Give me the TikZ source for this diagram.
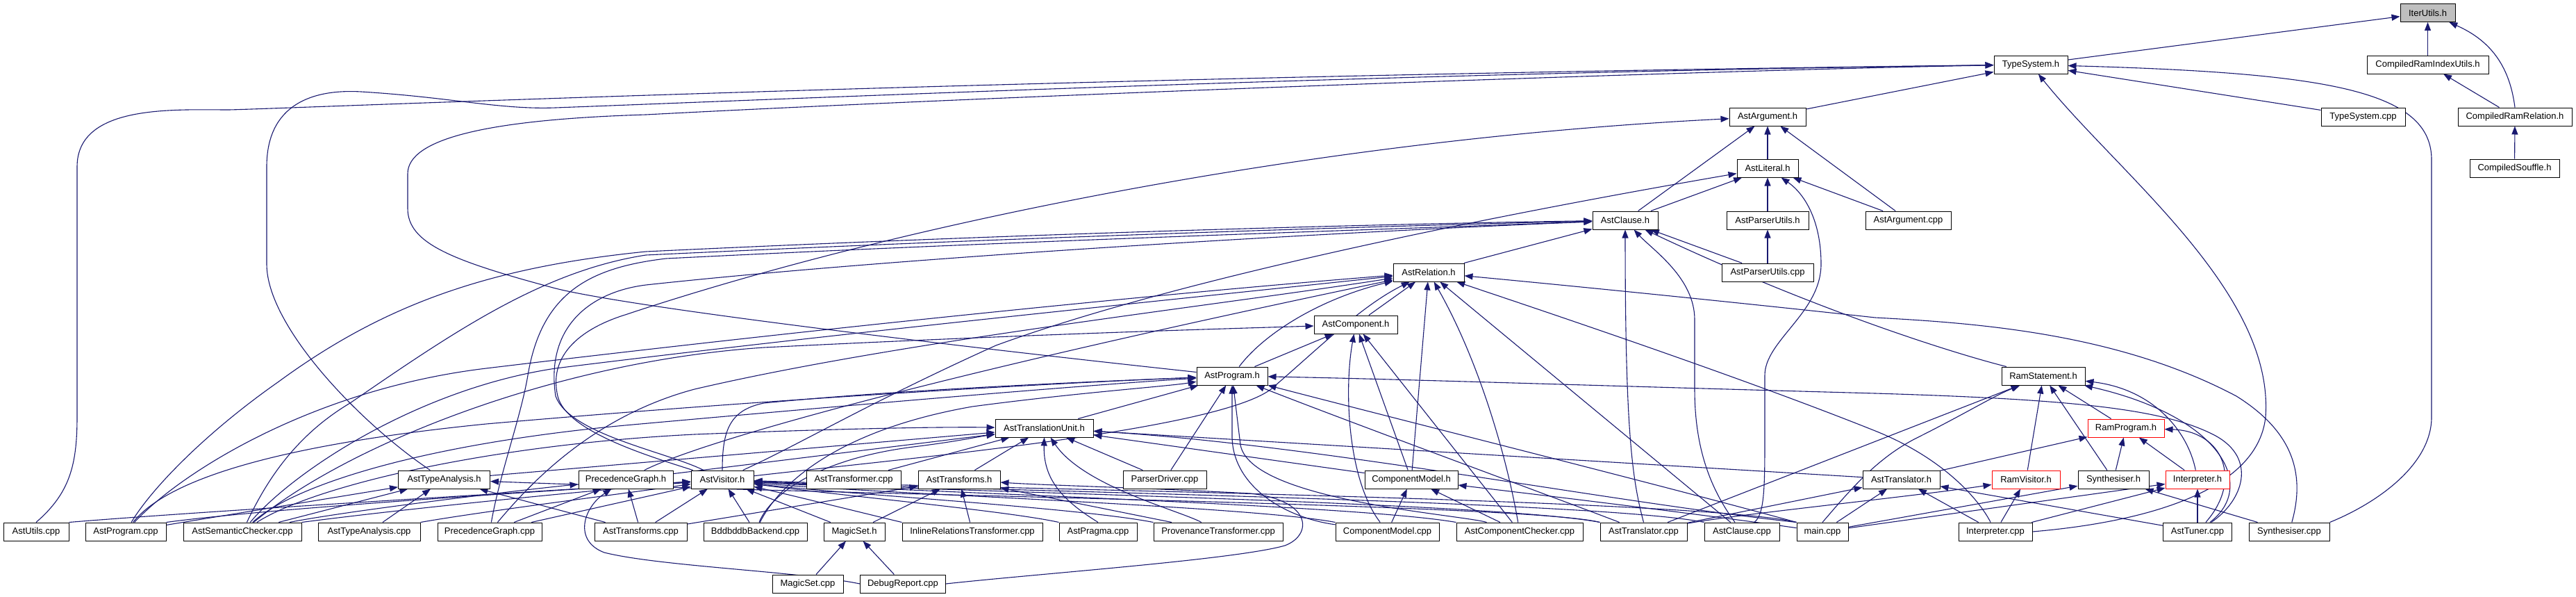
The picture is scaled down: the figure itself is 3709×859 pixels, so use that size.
\documentclass[tikz,border=0pt]{standalone}
\usepackage{fontspec}
\setmainfont{Liberation Sans}
\usetikzlibrary{arrows.meta}
\pgfdeclarelayer{bg}
\pgfsetlayers{bg,main}
\definecolor{edgeblue}{HTML}{191970}
\definecolor{hlgray}{HTML}{BFBFBF}
\tikzset{
 box/.style={draw=black, line width=1pt, fill=white, minimum height=26pt, inner sep=0pt, font=\fontsize{13}{15}\selectfont},
 redbox/.style={box, draw=red},
 e/.style={draw=edgeblue, line width=1.1pt, -{Triangle[length=12pt,width=9pt]}},
}
\begin{document}
\begin{tikzpicture}[x=1pt,y=-1pt]
\useasboundingbox (0,0) rectangle (3709,859);
% row 0-8
\node[box, fill=hlgray, minimum width=79pt] (IterUtils) at (3495.5,18.5) {IterUtils.h};
\node[box, minimum width=106pt] (TypeSystemH) at (2924,93) {TypeSystem.h};
\node[box, minimum width=175pt] (CRIdx) at (3495.5,93) {CompiledRamIndexUtils.h};
\node[box, minimum width=110pt] (AstArgumentH) at (2545,168) {AstArgument.h};
\node[box, minimum width=121pt] (TypeSystemCpp) at (3402.5,168) {TypeSystem.cpp};
\node[box, minimum width=164pt] (CRRel) at (3621,168) {CompiledRamRelation.h};
\node[box, minimum width=88pt] (AstLiteralH) at (2545,242) {AstLiteral.h};
\node[box, minimum width=129pt] (CSouffle) at (3620.5,242) {CompiledSouffle.h};
\node[box, minimum width=94pt] (AstClauseH) at (2340,317) {AstClause.h};
\node[box, minimum width=118pt] (AstParserUtilsH) at (2545,317) {AstParserUtils.h};
\node[box, minimum width=123pt] (AstArgumentCpp) at (2747.5,317) {AstArgument.cpp};
\node[box, minimum width=102pt] (AstRelationH) at (2057,392) {AstRelation.h};
\node[box, minimum width=132pt] (AstParserUtilsCpp) at (2545,392) {AstParserUtils.cpp};
\node[box, minimum width=120pt] (AstComponentH) at (1952,467) {AstComponent.h};
\node[box, minimum width=102pt] (AstProgramH) at (1774,541) {AstProgram.h};
\node[box, minimum width=120pt] (RamStatementH) at (2942,541) {RamStatement.h};
\node[box, minimum width=141pt] (AstTUH) at (1503.5,616) {AstTranslationUnit.h};
\node[redbox, minimum width=110pt] (RamProgramH) at (3061,616) {RamProgram.h};
% row 9
\node[box, minimum width=132pt] (AstTypeAnalysisH) at (639.5,690) {AstTypeAnalysis.h};
\node[box, minimum width=136pt] (PrecedenceGraphH) at (901,690) {PrecedenceGraph.h};
\node[box, minimum width=90pt] (AstVisitorH) at (1040,690) {AstVisitor.h};
\node[box, minimum width=136pt] (AstTransformerCpp) at (1229,690) {AstTransformer.cpp};
\node[box, minimum width=118pt] (AstTransformsH) at (1381,690) {AstTransforms.h};
\node[box, minimum width=120pt] (ParserDriverCpp) at (1677,690) {ParserDriver.cpp};
\node[box, minimum width=134pt] (ComponentModelH) at (2032,690) {ComponentModel.h};
\node[box, minimum width=111pt] (AstTranslatorH) at (2737.5,690) {AstTranslator.h};
\node[redbox, minimum width=98pt] (RamVisitorH) at (2917,690) {RamVisitor.h};
\node[box, minimum width=102pt] (SynthesiserH) at (3043,690) {Synthesiser.h};
\node[redbox, minimum width=92pt] (InterpreterH) at (3164,690) {Interpreter.h};
% row 10
\node[box, minimum width=94pt] (AstUtilsCpp) at (52,765) {AstUtils.cpp};
\node[box, minimum width=116pt] (AstProgramCpp) at (181,765) {AstProgram.cpp};
\node[box, minimum width=170pt] (AstSemCheckCpp) at (349,765) {AstSemanticChecker.cpp};
\node[box, minimum width=147pt] (AstTypeAnalysisCpp) at (531.5,765) {AstTypeAnalysis.cpp};
\node[box, minimum width=150pt] (PrecedenceGraphCpp) at (705,765) {PrecedenceGraph.cpp};
\node[box, minimum width=133pt] (AstTransformsCpp) at (922.5,765) {AstTransforms.cpp};
\node[box, minimum width=149pt] (BddbddbCpp) at (1087.5,765) {BddbddbBackend.cpp};
\node[box, minimum width=88pt] (MagicSetH) at (1230,765) {MagicSet.h};
\node[box, minimum width=202pt] (InlineRelCpp) at (1400,765) {InlineRelationsTransformer.cpp};
\node[box, minimum width=112pt] (AstPragmaCpp) at (1581,765) {AstPragma.cpp};
\node[box, minimum width=186pt] (ProvenanceCpp) at (1754,765) {ProvenanceTransformer.cpp};
\node[box, minimum width=149pt] (ComponentModelCpp) at (1997.5,765) {ComponentModel.cpp};
\node[box, minimum width=182pt] (AstCompCheckCpp) at (2188,765) {AstComponentChecker.cpp};
\node[box, minimum width=125pt] (AstTranslatorCpp) at (2366.5,765) {AstTranslator.cpp};
\node[box, minimum width=108pt] (AstClauseCpp) at (2508,765) {AstClause.cpp};
\node[box, minimum width=74pt] (MainCpp) at (2624,765) {main.cpp};
\node[box, minimum width=106pt] (InterpreterCpp) at (2873,765) {Interpreter.cpp};
\node[box, minimum width=99pt] (AstTunerCpp) at (3164,765) {AstTuner.cpp};
\node[box, minimum width=116pt] (SynthesiserCpp) at (3296,765) {Synthesiser.cpp};
% row 11
\node[box, minimum width=102pt] (MagicSetCpp) at (1163,840) {MagicSet.cpp};
\node[box, minimum width=123pt] (DebugReportCpp) at (1300,840) {DebugReport.cpp};

\begin{pgfonlayer}{bg}
% top cluster
\draw[e] (TypeSystemH) -- (IterUtils);
\draw[e] (CRIdx) -- (IterUtils);
\draw[e] (CRRel.north) .. controls (3614,100) and (3590,60) .. (IterUtils);
\draw[e] (CRRel) -- (CRIdx);
\draw[e] (CSouffle) -- (CRRel);
% TypeSystem.h
\draw[e] (AstArgumentH) -- (TypeSystemH);
\draw[e] (TypeSystemCpp) -- (TypeSystemH);
\draw[e] (SynthesiserCpp.north east) .. controls (3420,725) and (3501,670) .. (3501,600) -- (3501,230) .. controls (3501,130) and (3350,105) .. (TypeSystemH);
\draw[e] (InterpreterCpp.east) .. controls (3080,752) and (3250,710) .. (3262,600) .. controls (3275,420) and (3050,250) .. (TypeSystemH);
\draw[e] (AstUtilsCpp.north) .. controls (100,710) and (111,670) .. (111,600) -- (111,240) .. controls (111,150) and (250,158) .. (330,158) .. controls (450,155) and (1500,110) .. (TypeSystemH);
\draw[e] (AstTypeAnalysisH) .. controls (520,610) and (384,470) .. (384,380) -- (384,240) .. controls (384,150) and (450,128) .. (520,132) .. controls (650,140) and (720,158) .. (800,155) .. controls (1200,140) and (2000,105) .. (TypeSystemH);
\draw[e] (AstProgramH) .. controls (1300,490) and (900,440) .. (800,415) .. controls (650,375) and (587,350) .. (587,300) -- (587,250) .. controls (587,200) and (700,172) .. (930,165) .. controls (1500,135) and (2500,100) .. (TypeSystemH);
% AstArgument.h
\draw[e] (AstLiteralH) -- (AstArgumentH);
\draw[e] (AstClauseH) -- (AstArgumentH);
\draw[e] (AstArgumentCpp) -- (AstArgumentH);
\draw[e] (AstVisitorH) .. controls (930,655) and (815,620) .. (803,570) .. controls (790,515) and (830,475) .. (900,453) .. controls (1300,320) and (1900,200) .. (AstArgumentH);
% AstLiteral.h
\draw[e] (AstClauseH) -- (AstLiteralH);
\draw[e] (AstParserUtilsH) -- (AstLiteralH);
\draw[e] (AstClauseCpp) .. controls (2541,740) and (2541,700) .. (2541,620) -- (2541,540) .. controls (2541,490) and (2622,450) .. (2622,380) .. controls (2622,320) and (2600,280) .. (AstLiteralH);
\draw[e] (AstArgumentCpp) -- (AstLiteralH);
\draw[e] (AstVisitorH) .. controls (1150,640) and (1250,580) .. (1434,497) .. controls (1700,400) and (2150,310) .. (AstLiteralH);
% AstParserUtils
\draw[e] (AstParserUtilsCpp) -- (AstParserUtilsH);
\draw[e] (AstParserUtilsCpp) -- (AstClauseH);
% AstClause.h
\draw[e] (AstRelationH) -- (AstClauseH);
\draw[e] (AstTranslatorCpp.north) .. controls (2350,690) and (2340,620) .. (AstClauseH.south);
\draw[e] (AstClauseCpp) .. controls (2460,700) and (2440,640) .. (2440,560) -- (2440,460) .. controls (2440,400) and (2380,360) .. (AstClauseH);
\draw[e] (RamStatementH) .. controls (2800,505) and (2600,440) .. (AstClauseH);
\draw[e] (AstProgramCpp) .. controls (220,700) and (300,620) .. (400,550) .. controls (550,440) and (700,385) .. (930,362) .. controls (1500,335) and (2000,322) .. (AstClauseH);
\draw[e] (AstSemCheckCpp) .. controls (380,700) and (420,630) .. (504,580) .. controls (650,480) and (780,390) .. (930,367) .. controls (1500,340) and (2000,325) .. (AstClauseH);
\draw[e] (PrecedenceGraphCpp) .. controls (720,680) and (750,600) .. (760,540) .. controls (780,420) and (850,385) .. (959,372) .. controls (1500,345) and (2000,330) .. (AstClauseH);
\draw[e] (AstVisitorH) .. controls (960,650) and (820,625) .. (800,570) .. controls (785,470) and (850,420) .. (930,410) .. controls (1300,370) and (1900,335) .. (AstClauseH);
% AstRelation.h
\draw[e] (AstComponentH) -- (AstRelationH);
\draw[e] (AstProgramH) .. controls (1820,480) and (1900,430) .. (AstRelationH);
\draw[e] (ComponentModelH) -- (AstRelationH);
\draw[e] (AstCompCheckCpp) .. controls (2170,660) and (2130,520) .. (AstRelationH);
\draw[e] (AstClauseCpp) -- (AstRelationH);
\draw[e] (InterpreterCpp) .. controls (2850,720) and (2800,660) .. (2700,620) .. controls (2500,540) and (2200,440) .. (AstRelationH);
\draw[e] (SynthesiserCpp) .. controls (3320,680) and (3300,620) .. (3220,570) .. controls (3050,480) and (2850,465) .. (2700,457) .. controls (2500,435) and (2250,410) .. (AstRelationH);
\draw[e] (AstProgramCpp) .. controls (260,680) and (450,560) .. (700,530) .. controls (1200,470) and (1700,420) .. (AstRelationH);
\draw[e] (AstSemCheckCpp) .. controls (420,680) and (600,560) .. (800,530) .. controls (1200,480) and (1700,430) .. (AstRelationH);
\draw[e] (PrecedenceGraphCpp) .. controls (760,700) and (850,600) .. (1000,560) .. controls (1300,490) and (1750,440) .. (AstRelationH);
\draw[e] (PrecedenceGraphH) .. controls (1000,640) and (1300,550) .. (AstRelationH);
\draw[e] (AstVisitorH) .. controls (1300,660) and (1750,620) .. (1830,560) .. controls (1900,500) and (1960,440) .. (AstRelationH);
% AstComponent.h
\draw[e] (AstProgramH) -- (AstComponentH);
\draw[e] (ComponentModelCpp) .. controls (1940,690) and (1935,560) .. (AstComponentH);
\draw[e] (ComponentModelH) -- (AstComponentH);
\draw[e] (AstCompCheckCpp) -- (AstComponentH);
\draw[e] (AstSemCheckCpp) .. controls (500,640) and (800,520) .. (1100,500) .. controls (1500,480) and (1800,472) .. (AstComponentH);
% AstProgram.h
\draw[e] (AstTUH) -- (AstProgramH);
\draw[e] (ParserDriverCpp) -- (AstProgramH);
\draw[e] (MainCpp.north west) .. controls (2400,700) and (2000,600) .. (AstProgramH);
\draw[e] (AstTranslatorCpp) .. controls (2250,720) and (1950,610) .. (AstProgramH);
\draw[e] (AstTunerCpp) .. controls (3230,720) and (3250,660) .. (3190,627) .. controls (3120,590) and (3000,575) .. (2700,566) .. controls (2300,555) and (2000,545) .. (AstProgramH);
\draw[e] (AstVisitorH) .. controls (1040,620) and (1050,590) .. (1100,580) .. controls (1300,560) and (1600,548) .. (AstProgramH);
\draw[e] (AstProgramCpp) .. controls (240,690) and (400,640) .. (700,610) .. controls (1100,575) and (1500,552) .. (AstProgramH);
\draw[e] (AstSemCheckCpp) .. controls (420,700) and (600,640) .. (900,612) .. controls (1200,585) and (1550,555) .. (AstProgramH);
\draw[e] (BddbddbCpp) .. controls (1120,700) and (1200,620) .. (1400,585) .. controls (1550,565) and (1680,556) .. (AstProgramH);
\draw[e] (ComponentModelCpp) .. controls (1850,745) and (1776,700) .. (1774,630) -- (AstProgramH);
\draw[e] (AstCompCheckCpp) .. controls (2100,740) and (1800,720) .. (1786,640) -- (AstProgramH);
% AstTranslationUnit.h
\draw[e] (AstTransformerCpp) -- (AstTUH);
\draw[e] (AstTransformsH) -- (AstTUH);
\draw[e] (AstPragmaCpp.north) .. controls (1530,720) and (1502,690) .. (AstTUH.south);
\draw[e] (ProvenanceCpp) .. controls (1700,735) and (1560,700) .. (AstTUH);
\draw[e] (ParserDriverCpp) -- (AstTUH);
\draw[e] (AstTranslatorH) -- (AstTUH);
\draw[e] (ComponentModelH) -- (AstTUH);
\draw[e] (MainCpp.north west) .. controls (2300,720) and (1900,640) .. (AstTUH);
\draw[e] (AstTypeAnalysisH) -- (AstTUH);
\draw[e] (PrecedenceGraphH) -- (AstTUH);
\draw[e] (AstSemCheckCpp) .. controls (450,700) and (700,640) .. (1000,625) .. controls (1200,617) and (1350,614) .. (AstTUH);
\draw[e] (BddbddbCpp) .. controls (1110,710) and (1180,660) .. (1315,643) .. controls (1380,635) and (1410,628) .. (AstTUH);
% AstTypeAnalysis.h
\draw[e] (AstSemCheckCpp) -- (AstTypeAnalysisH);
\draw[e] (AstTypeAnalysisCpp) -- (AstTypeAnalysisH);
\draw[e] (AstTransformsCpp) -- (AstTypeAnalysisH);
\draw[e] (AstProgramCpp) -- (AstTypeAnalysisH);
\draw[e] (AstTranslatorCpp.north west) .. controls (2200,725) and (1200,712) .. (AstTypeAnalysisH);
% PrecedenceGraph.h
\draw[e] (PrecedenceGraphCpp) -- (PrecedenceGraphH);
\draw[e] (AstTransformsCpp) -- (PrecedenceGraphH);
\draw[e] (AstSemCheckCpp) .. controls (500,735) and (750,705) .. (PrecedenceGraphH);
\draw[e] (DebugReportCpp.west) .. controls (1150,822) and (950,815) .. (870,795) .. controls (825,778) and (840,730) .. (PrecedenceGraphH);
% AstVisitor.h
\draw[e] (AstTransformsCpp) -- (AstVisitorH);
\draw[e] (BddbddbCpp) -- (AstVisitorH);
\draw[e] (MagicSetH) -- (AstVisitorH);
\draw[e] (InlineRelCpp.north west) .. controls (1250,740) and (1150,715) .. (AstVisitorH);
\draw[e] (AstPragmaCpp.north west) .. controls (1450,735) and (1200,712) .. (AstVisitorH);
\draw[e] (ProvenanceCpp.north west) .. controls (1550,730) and (1200,710) .. (AstVisitorH);
\draw[e] (ComponentModelCpp.north west) .. controls (1800,728) and (1250,710) .. (AstVisitorH);
\draw[e] (AstCompCheckCpp.north west) .. controls (1950,726) and (1300,708) .. (AstVisitorH);
\draw[e] (AstTranslatorCpp.north west) .. controls (2150,722) and (1300,706) .. (AstVisitorH);
\draw[e] (AstClauseCpp.north west) .. controls (2300,720) and (1350,705) .. (AstVisitorH);
\draw[e] (MainCpp.north west) .. controls (2450,718) and (1400,703) .. (AstVisitorH);
\draw[e] (AstUtilsCpp.north east) .. controls (300,735) and (700,712) .. (AstVisitorH);
\draw[e] (AstProgramCpp.north east) .. controls (400,730) and (800,706) .. (AstVisitorH);
\draw[e] (AstSemCheckCpp.north east) .. controls (600,730) and (850,706) .. (AstVisitorH);
\draw[e] (AstTypeAnalysisCpp.north east) .. controls (700,735) and (900,710) .. (AstVisitorH);
\draw[e] (PrecedenceGraphCpp) -- (AstVisitorH);
% AstTransforms.h
\draw[e] (AstTransformsCpp) -- (AstTransformsH);
\draw[e] (MagicSetH) -- (AstTransformsH);
\draw[e] (InlineRelCpp) -- (AstTransformsH);
\draw[e] (ProvenanceCpp) -- (AstTransformsH);
\draw[e] (DebugReportCpp.east) .. controls (1500,825) and (1780,805) .. (1850,785) .. controls (1890,770) and (1890,720) .. (1800,710) .. controls (1650,702) and (1500,698) .. (AstTransformsH);
% ComponentModel.h
\draw[e] (ComponentModelCpp) -- (ComponentModelH);
\draw[e] (AstCompCheckCpp) -- (ComponentModelH);
\draw[e] (MainCpp) .. controls (2450,740) and (2200,710) .. (ComponentModelH);
% AstTranslator.h
\draw[e] (AstTranslatorCpp) -- (AstTranslatorH);
\draw[e] (MainCpp) -- (AstTranslatorH);
\draw[e] (InterpreterCpp) -- (AstTranslatorH);
\draw[e] (AstTunerCpp) -- (AstTranslatorH);
% RamStatement.h
\draw[e] (AstTranslatorCpp) -- (RamStatementH);
\draw[e] (MainCpp.north) .. controls (2660,710) and (2700,660) .. (2760,630) .. controls (2830,595) and (2870,570) .. (RamStatementH);
\draw[e] (RamVisitorH) -- (RamStatementH);
\draw[e] (SynthesiserH) -- (RamStatementH);
\draw[e] (RamProgramH) -- (RamStatementH);
\draw[e] (InterpreterH) .. controls (3150,620) and (3100,560) .. (RamStatementH);
\draw[e] (AstTunerCpp) .. controls (3250,700) and (3200,600) .. (RamStatementH);
% RamProgram.h
\draw[e] (AstTranslatorH) -- (RamProgramH);
\draw[e] (SynthesiserH) -- (RamProgramH);
\draw[e] (InterpreterH) -- (RamProgramH);
\draw[e] (AstTunerCpp) .. controls (3230,690) and (3200,620) .. (RamProgramH);
% RamVisitor.h
\draw[e] (InterpreterCpp) -- (RamVisitorH);
\draw[e] (AstTranslatorCpp) .. controls (2500,740) and (2750,715) .. (RamVisitorH);
% Synthesiser.h / Interpreter.h
\draw[e] (SynthesiserCpp) -- (SynthesiserH);
\draw[e] (MainCpp) -- (SynthesiserH);
\draw[e] (AstTunerCpp) -- (InterpreterH);
\draw[e] (InterpreterCpp) -- (InterpreterH);
\draw[e] (MainCpp) -- (InterpreterH);
% MagicSet.h
\draw[e] (MagicSetCpp) -- (MagicSetH);
\draw[e] (DebugReportCpp) -- (MagicSetH);
\end{pgfonlayer}
\end{tikzpicture}
\end{document}
